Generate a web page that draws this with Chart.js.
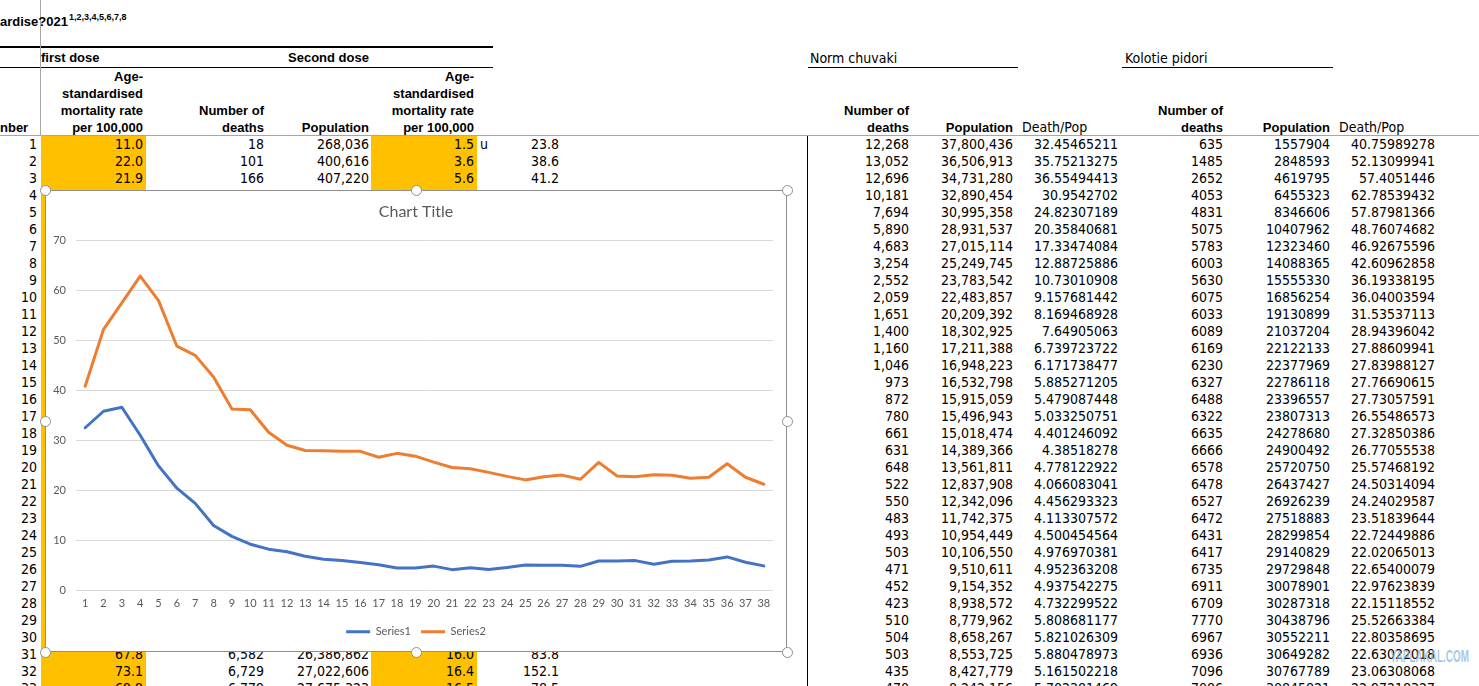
<!DOCTYPE html>
<html>
<head>
<meta charset="utf-8">
<title>Chart Title</title>
<script src="https://cdn.jsdelivr.net/npm/chart.js@4.4.1/dist/chart.umd.min.js"></script>
<style>
  html, body { margin: 0; padding: 0; background: #fff; }
  body {
    width: 1479px; height: 686px; overflow: hidden; position: relative;
    font-family: "Liberation Sans Narrow", "Arial Narrow", "DejaVu Sans Condensed", sans-serif;
    font-size: 14px; color: #000;
  }
  .c { position: absolute; white-space: nowrap; line-height: 17px; height: 17px; }
  .r { text-align: right; }
  .b { font-family: "Liberation Sans", Arial, sans-serif; font-weight: bold; font-size: 13px; }
  .ln { position: absolute; }
  .yel { position: absolute; background: #ffc000; }
  #box {
    position: absolute; left: 45px; top: 190px; width: 742px; height: 462px;
    border: 1px solid #8f8f8f; box-sizing: border-box; background: #fff;
  }
  #chart { position: absolute; left: 0; top: 0; }
  .h {
    position: absolute; width: 11px; height: 11px; border: 1.5px solid #8f8f8f;
    border-radius: 50%; background: #fff; box-sizing: border-box;
  }
  .wm { position: absolute; left: 1390px; top: 648px; font: bold 16px "Liberation Sans", Arial, sans-serif;
        color: rgba(140, 180, 220, 0.75); transform: scaleX(0.62); transform-origin: left top; }
</style>
</head>
<body>
<div id="sheet"></div>
<div id="box"><canvas id="chart" width="740" height="460" style="width:740px;height:460px"></canvas></div>
<div class="wm">YAPLAKAL.COM</div>

<script>
// chart data
const categories = ['1','2','3','4','5','6','7','8','9','10','11','12','13','14','15','16','17','18','19',
  '20','21','22','23','24','25','26','27','28','29','30','31','32','33','34','35','36','37','38'];
const series1 = [32.45, 35.75, 36.55, 30.95, 24.82, 20.36, 17.33, 12.89, 10.73, 9.16, 8.17, 7.65, 6.74,
  6.17, 5.89, 5.48, 5.03, 4.40, 4.39, 4.78, 4.07, 4.46, 4.11, 4.50, 4.98, 4.95, 4.94, 4.73, 5.81,
  5.82, 5.88, 5.16, 5.75, 5.78, 6.02, 6.62, 5.55, 4.82];
const series2 = [40.76, 52.13, 57.41, 62.79, 57.88, 48.76, 46.93, 42.61, 36.19, 36.04, 31.54, 28.94, 27.89,
  27.84, 27.77, 27.73, 26.55, 27.33, 26.77, 25.57, 24.50, 24.24, 23.52, 22.72, 22.02, 22.65, 22.98,
  22.15, 25.53, 22.80, 22.63, 23.06, 22.95, 22.35, 22.55, 25.25, 22.55, 21.15];
const yTicks = [0, 10, 20, 30, 40, 50, 60, 70];

// sheet text, left block (rows not hidden by the chart)
const leftRows = [1, 2, 3, 31, 32, 33];
const leftRate1 = ['11.0', '22.0', '21.9', '67.8', '73.1', '69.9'];
const leftDeaths = ['18', '101', '166', '6,582', '6,729', '6,779'];
const leftPop = ['268,036', '400,616', '407,220', '26,386,862', '27,022,606', '27,675,323'];
const leftRate2 = ['1.5', '3.6', '5.6', '16.0', '16.4', '16.5'];
const leftExtra = ['23.8', '38.6', '41.2', '83.8', '152.1', '78.5'];

// sheet text, right block
const normDeaths = ['12,268','13,052','12,696','10,181','7,694','5,890','4,683','3,254','2,552','2,059','1,651',
  '1,400','1,160','1,046','973','872','780','661','631','648','522','550','483','493','503','471','452',
  '423','510','504','503','435','470'];
const normPop = ['37,800,436','36,506,913','34,731,280','32,890,454','30,995,358','28,931,537','27,015,114',
  '25,249,745','23,783,542','22,483,857','20,209,392','18,302,925','17,211,388','16,948,223','16,532,798',
  '15,915,059','15,496,943','15,018,474','14,389,366','13,561,811','12,837,908','12,342,096','11,742,375',
  '10,954,449','10,106,550','9,510,611','9,154,352','8,938,572','8,779,962','8,658,267','8,553,725',
  '8,427,779','8,242,156'];
const normRate = ['32.45465211','35.75213275','36.55494413','30.9542702','24.82307189','20.35840681',
  '17.33474084','12.88725886','10.73010908','9.157681442','8.169468928','7.64905063','6.739723722',
  '6.171738477','5.885271205','5.479087448','5.033250751','4.401246092','4.38518278','4.778122922',
  '4.066083041','4.456293323','4.113307572','4.500454564','4.976970381','4.952363208','4.937542275',
  '4.732299522','5.808681177','5.821026309','5.880478973','5.161502218','5.702381469'];
const koloDeaths = ['635','1485','2652','4053','4831','5075','5783','6003','5630','6075','6033','6089','6169',
  '6230','6327','6488','6322','6635','6666','6578','6478','6527','6472','6431','6417','6735','6911','6709',
  '7770','6967','6936','7096','7086'];
const koloPop = ['1557904','2848593','4619795','6455323','8346606','10407962','12323460','14088365',
  '15555330','16856254','19130899','21037204','22122133','22377969','22786118','23396557','23807313',
  '24278680','24900492','25720750','26437427','26926239','27518883','28299854','29140829','29729848',
  '30078901','30287318','30438796','30552211','30649282','30767789','30845821'];
const koloRate = ['40.75989278','52.13099941','57.4051446','62.78539432','57.87981366','48.76074682',
  '46.92675596','42.60962858','36.19338195','36.04003594','31.53537113','28.94396042','27.88609941',
  '27.83988127','27.76690615','27.73057591','26.55486573','27.32850386','26.77055538','25.57468192',
  '24.50314094','24.24029587','23.51839644','22.72449886','22.02065013','22.65400079','22.97623839',
  '22.15118552','25.52663384','22.80358695','22.63022018','23.06308068','22.97218327'];

const sheet = document.getElementById('sheet');
const rowY = n => 144.5 + (n - 1) * 17;

function cell(text, x, y, right, cls) {
  const d = document.createElement('div');
  d.className = 'c' + (right ? ' r' : '') + (cls ? ' ' + cls : '');
  d.textContent = text;
  d.style.top = (y - 8.5) + 'px';
  if (right) { d.style.left = (x - 200) + 'px'; d.style.width = '200px'; }
  else d.style.left = x + 'px';
  sheet.appendChild(d);
  return d;
}
function box(cls, x, y, w, h, color) {
  const d = document.createElement('div');
  d.className = cls;
  d.style.cssText = `left:${x}px;top:${y}px;width:${w}px;height:${h}px;` + (color ? `background:${color};` : '');
  sheet.appendChild(d);
}

// yellow columns
box('yel', 41, 136, 105, 560);
box('yel', 371, 136, 106, 560);

// lines
box('ln', 0, 46, 493, 2, '#000');
box('ln', 0, 67, 493, 1, '#000');
box('ln', 0, 135, 1479, 1, '#a6a6a6');
box('ln', 40, 0, 1, 135, '#a6a6a6');
box('ln', 807, 136, 1, 550, '#000');
box('ln', 808, 67, 210, 1, '#000');
box('ln', 1122, 67, 211, 1, '#000');

// top-left titles
cell('ardise?021', 0, 21, false, 'b');
const sup = cell('1,2,3,4,5,6,7,8', 69, 17, false, 'b');
sup.style.fontSize = '9px';
cell('first dose', 41, 57, false, 'b');
cell('Second dose', 288, 57, false, 'b');
cell('nber', 0, 127.5, false, 'b');
const ageHead = ['Age-', 'standardised', 'mortality rate', 'per 100,000'];
ageHead.forEach((t, i) => {
  cell(t, 143, 76.5 + i * 17, true, 'b');
  cell(t, 474, 76.5 + i * 17, true, 'b');
});
cell('Number of', 264, 110.5, true, 'b');
cell('deaths', 264, 127.5, true, 'b');
cell('Population', 369, 127.5, true, 'b');

// right headers
cell('Norm chuvaki', 810, 58);
cell('Kolotie pidori', 1125, 58);
[[909, 1013, 1022], [1223, 1330, 1339]].forEach(([xd, xp, xr]) => {
  cell('Number of', xd, 110.5, true, 'b');
  cell('deaths', xd, 127.5, true, 'b');
  cell('Population', xp, 127.5, true, 'b');
  cell('Death/Pop', xr, 127.5);
});

// row numbers
for (let n = 1; n <= 33; n++) cell(String(n), 37, rowY(n), true);

// left block values
leftRows.forEach((n, i) => {
  const y = rowY(n);
  cell(leftRate1[i], 143, y, true);
  cell(leftDeaths[i], 264, y, true);
  cell(leftPop[i], 369, y, true);
  cell(leftRate2[i], 474, y, true);
  cell(leftExtra[i], 559, y, true);
});
cell('u', 480, rowY(1));

// right block values
normDeaths.forEach((v, i) => {
  const y = rowY(i + 1);
  cell(v, 909, y, true);
  cell(normPop[i], 1013, y, true);
  cell(normRate[i], 1118, y, true);
  cell(koloDeaths[i], 1223, y, true);
  cell(koloPop[i], 1330, y, true);
  cell(koloRate[i], 1435, y, true);
});

// selection handles round the chart object
[[45, 190], [416, 190], [787, 190], [45, 421], [787, 421], [45, 652], [416, 652], [787, 652]].forEach(([x, y]) => {
  const h = document.createElement('div');
  h.className = 'h';
  h.style.left = (x - 5.5) + 'px';
  h.style.top = (y - 5.5) + 'px';
  document.body.appendChild(h);
});

// the chart
Chart.defaults.font.family = 'Lato, "Open Sans", sans-serif';
Chart.defaults.color = '#595959';

new Chart(document.getElementById('chart'), {
  type: 'line',
  data: {
    labels: categories,
    datasets: [
      {
        label: 'Series1',
        data: series1,
        borderColor: '#4472c4',
        backgroundColor: '#4472c4',
        borderWidth: 3,
        pointRadius: 0,
        tension: 0,
        borderJoinStyle: 'round',
        borderCapStyle: 'round'
      },
      {
        label: 'Series2',
        data: series2,
        borderColor: '#ed7d31',
        backgroundColor: '#ed7d31',
        borderWidth: 3,
        pointRadius: 0,
        tension: 0,
        borderJoinStyle: 'round',
        borderCapStyle: 'round'
      }
    ]
  },
  options: {
    responsive: false,
    animation: false,
    layout: { padding: { left: 0, right: 0, top: 0, bottom: 3.8 } },
    plugins: {
      title: {
        display: true,
        text: 'Chart Title',
        color: '#595959',
        font: { size: 16, weight: 'normal' },
        padding: { top: 11, bottom: 18.8 }
      },
      legend: {
        position: 'bottom',
        labels: {
          usePointStyle: true,
          pointStyle: 'line',
          pointStyleWidth: 24,
          color: '#595959',
          font: { size: 11 },
          padding: 10
        }
      },
      tooltip: { enabled: false }
    },
    scales: {
      x: {
        offset: true,
        grid: { display: false, drawTicks: false },
        border: { display: false },
        ticks: { autoSkip: false, maxRotation: 0, padding: 7, font: { size: 11 } },
        afterFit: s => { s.height -= 1; }
      },
      y: {
        min: yTicks[0],
        max: yTicks[yTicks.length - 1],
        ticks: { stepSize: 10, padding: 10, font: { size: 11 } },
        grid: { color: '#d9d9d9', drawTicks: false },
        border: { display: false },
        afterFit: s => { s.width = 30; }
      },
      // empty right-hand strip of the plot frame
      yRight: {
        position: 'right',
        min: yTicks[0],
        max: yTicks[yTicks.length - 1],
        ticks: { display: false },
        grid: { display: false, drawTicks: false },
        border: { display: false },
        afterFit: s => { s.width = 13; }
      }
    }
  }
});
</script>
</body>
</html>
